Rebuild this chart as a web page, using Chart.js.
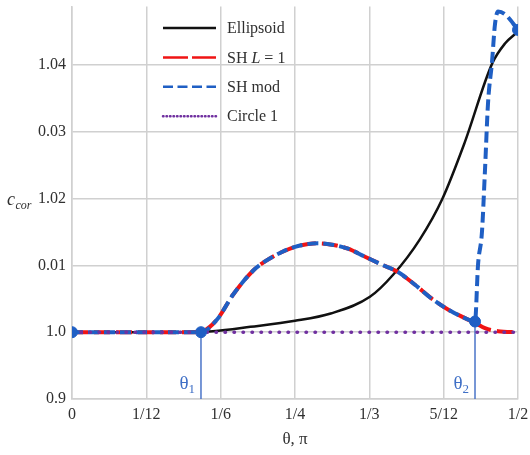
<!DOCTYPE html>
<html>
<head>
<meta charset="utf-8">
<script src="https://cdn.jsdelivr.net/npm/chart.js@4.4.1/dist/chart.umd.min.js"></script>
<style>
  html, body { margin: 0; padding: 0; background: #fff; }
</style>
</head>
<body>
<canvas id="chart" width="530" height="455"></canvas>
<script>
const SERIF = '"Liberation Serif", "DejaVu Serif", serif';
const TEXT = '#303030';
const GRID = '#d0d0d0';

// theta in units of pi
const xTicks = [0, 1 / 12, 1 / 6, 1 / 4, 1 / 3, 5 / 12, 1 / 2];
const xTickLabels = ['0', '1/12', '1/6', '1/4', '1/3', '5/12', '1/2'];
// printed this way in the source figure
const yTickLabels = ['0.9', '1.0', '0.01', '1.02', '0.03', '1.04'];
const yTop = 1.04875;

const ellipsoidX = [0, 0.05, 0.10, 0.13, 0.158, 0.20, 0.25, 0.29, 0.334, 0.36, 0.39, 0.415, 0.44, 0.471, 0.4854, 0.5];
const ellipsoid = [1.0, 1.0, 1.0, 1.00004, 1.00015, 1.0008, 1.0017, 1.0028, 1.0053, 1.0086, 1.0139, 1.0199, 1.0283, 1.0402, 1.0432, 1.0450];

const shL1X = [0, 0.10, 0.13, 0.1446, 0.1626, 0.1805, 0.2029, 0.2164, 0.2354, 0.2534, 0.2758, 0.2915, 0.3094, 0.3285, 0.3475, 0.3655, 0.3845, 0.4036, 0.4215, 0.4406, 0.4518, 0.463, 0.4776, 0.5];
const shL1 = [1.0, 1.0, 1.0, 1.0001, 1.0019, 1.0056, 1.0092, 1.0106, 1.0120, 1.0129, 1.0133, 1.0131, 1.0125, 1.0113, 1.0101, 1.0090, 1.0071, 1.0050, 1.0034, 1.0021, 1.0014, 1.0006, 1.00015, 1.0];

const shModX = [0, 0.10, 0.1446, 0.1626, 0.1805, 0.2029, 0.2164, 0.2354, 0.2534, 0.2758, 0.2915, 0.3094, 0.3285, 0.3475, 0.3655, 0.3845, 0.4036, 0.4215, 0.4406, 0.4518, 0.4552, 0.4596, 0.463, 0.4664, 0.4709, 0.4742, 0.4776, 0.4854, 0.5];
const shMod = [1.0, 1.0, 1.0, 1.0019, 1.0056, 1.0092, 1.0106, 1.0120, 1.0129, 1.0133, 1.0131, 1.0125, 1.0113, 1.0101, 1.0090, 1.0071, 1.0050, 1.0034, 1.0021, 1.0016, 1.0101, 1.0150, 1.0243, 1.0343, 1.0405, 1.0461, 1.0480, 1.0476, 1.04525];

const circleX = [0, 0.5];
const circle = [1.0, 1.0];

const markX = [0, 0.1446, 0.4518, 0.5];
const markY = [1.0, 1.0, 1.0016, 1.04525];

const theta = [0.1446, 0.4518];
const thetaY = [1.0, 1.0016];
const thetaSub = ['1', '2'];

// broken axis: 0.9 -> 0, 1.0 -> 1, then one step per 0.01
const toAxis = (v) => (v < 1 ? (v - 0.9) / 0.1 : 1 + (v - 1) / 0.01);
const pts = (xs, ys) => xs.map((x, i) => ({ x, y: toAxis(ys[i]) }));

const BLUE = '#1f5fc4';

const datasets = [
  {
    data: pts(ellipsoidX, ellipsoid),
    borderColor: '#111111',
    borderWidth: 2.5,
    cubicInterpolationMode: 'monotone',
    order: 4,
    legendText: [['Ellipsoid', false]],
    legendDash: [],
    legendWidth: 2.5,
  },
  {
    data: pts(shL1X, shL1),
    borderColor: '#f01414',
    borderWidth: 4,
    borderDash: [16, 6],
    cubicInterpolationMode: 'monotone',
    order: 3,
    legendText: [['SH ', false], ['L', true], [' = 1', false]],
    legendDash: [25, 4],
    legendWidth: 2.5,
  },
  {
    data: pts(shModX, shMod),
    borderColor: BLUE,
    borderWidth: 4,
    borderDash: [11, 5],
    cubicInterpolationMode: 'monotone',
    order: 2,
    legendText: [['SH mod', false]],
    legendDash: [10, 4.5],
    legendWidth: 2.5,
  },
  {
    data: pts(circleX, circle),
    borderColor: '#7030a0',
    borderWidth: 3.5,
    borderDash: [0.5, 8.5],
    borderCapStyle: 'round',
    order: 1,
    legendText: [['Circle 1', false]],
    legendDash: [0.5, 3],
    legendWidth: 2.5,
    legendCap: 'round',
  },
  {
    data: pts(markX, markY),
    showLine: false,
    pointRadius: 5.5,
    backgroundColor: BLUE,
    borderColor: BLUE,
    order: 0,
  },
];

theta.forEach((t, i) => {
  datasets.push({
    data: pts([t, t], [0.9, thetaY[i]]),
    borderColor: '#4a74c8',
    borderWidth: 1.5,
    order: 5,
  });
});

const figurePlugin = {
  id: 'figure',
  afterDraw(chart) {
    const { ctx } = chart;
    ctx.save();
    ctx.textBaseline = 'middle';

    // legend
    chart.data.datasets.filter((d) => d.legendText).forEach((d, i) => {
      const y = 28 + i * 29.4;
      ctx.beginPath();
      ctx.strokeStyle = d.borderColor;
      ctx.lineWidth = d.legendWidth;
      ctx.lineCap = d.legendCap || 'butt';
      ctx.setLineDash(d.legendDash);
      ctx.moveTo(163, y);
      ctx.lineTo(216, y);
      ctx.stroke();
      ctx.setLineDash([]);
      let tx = 227;
      ctx.fillStyle = TEXT;
      d.legendText.forEach(([s, it]) => {
        ctx.font = `${it ? 'italic ' : ''}16px ${SERIF}`;
        ctx.fillText(s, tx, y + 1);
        tx += ctx.measureText(s).width;
      });
    });

    // theta labels
    ctx.textBaseline = 'alphabetic';
    ctx.fillStyle = '#3f6fc6';
    theta.forEach((t, i) => {
      const right = chart.scales.x.getPixelForValue(t) - 6;
      ctx.font = `13px ${SERIF}`;
      const wSub = ctx.measureText(thetaSub[i]).width;
      ctx.font = `19px ${SERIF}`;
      const wTh = ctx.measureText('θ').width;
      ctx.fillText('θ', right - wSub - wTh, 389);
      ctx.font = `13px ${SERIF}`;
      ctx.fillText(thetaSub[i], right - wSub, 393);
    });

    // y title
    ctx.fillStyle = TEXT;
    ctx.font = `italic 18px ${SERIF}`;
    ctx.fillText('c', 7, 205);
    const wc = ctx.measureText('c').width;
    ctx.font = `italic 12px ${SERIF}`;
    ctx.fillText('cor', 7 + wc + 0.5, 209);
    ctx.restore();
  },
};

new Chart(document.getElementById('chart').getContext('2d'), {
  type: 'line',
  data: { datasets },
  plugins: [figurePlugin],
  options: {
    responsive: false,
    animation: false,
    devicePixelRatio: 1,
    layout: { padding: { left: 0, right: 12, top: 3, bottom: 0 } },
    elements: { point: { radius: 0 }, line: { fill: false } },
    plugins: { legend: { display: false }, tooltip: { enabled: false } },
    scales: {
      x: {
        type: 'linear',
        min: 0,
        max: 0.5,
        afterBuildTicks: (s) => { s.ticks = xTicks.map((value) => ({ value })); },
        afterFit: (s) => { s.height = 56; s.paddingLeft = 0; s.paddingRight = 0; },
        ticks: {
          callback: (v, i) => xTickLabels[i],
          font: { family: SERIF, size: 16 },
          color: TEXT,
          padding: 6,
          maxRotation: 0,
          autoSkip: false,
        },
        grid: { color: GRID, lineWidth: 1.5, drawTicks: false },
        border: { color: GRID, width: 1.5 },
        title: {
          display: true,
          text: 'θ, π',
          font: { family: SERIF, size: 17 },
          color: TEXT,
          padding: { top: 0, bottom: 5 },
        },
      },
      y: {
        type: 'linear',
        min: 0,
        max: toAxis(yTop),
        afterBuildTicks: (s) => { s.ticks = yTickLabels.map((_, value) => ({ value })); },
        afterFit: (s) => { s.width = 72; s.paddingTop = 0; s.paddingBottom = 0; },
        ticks: {
          callback: (v, i) => yTickLabels[i],
          font: { family: SERIF, size: 16 },
          color: TEXT,
          padding: 6,
          autoSkip: false,
        },
        grid: { color: GRID, lineWidth: 1.5, drawTicks: false },
        border: { color: GRID, width: 1.5 },
      },
    },
  },
});
</script>
</body>
</html>
